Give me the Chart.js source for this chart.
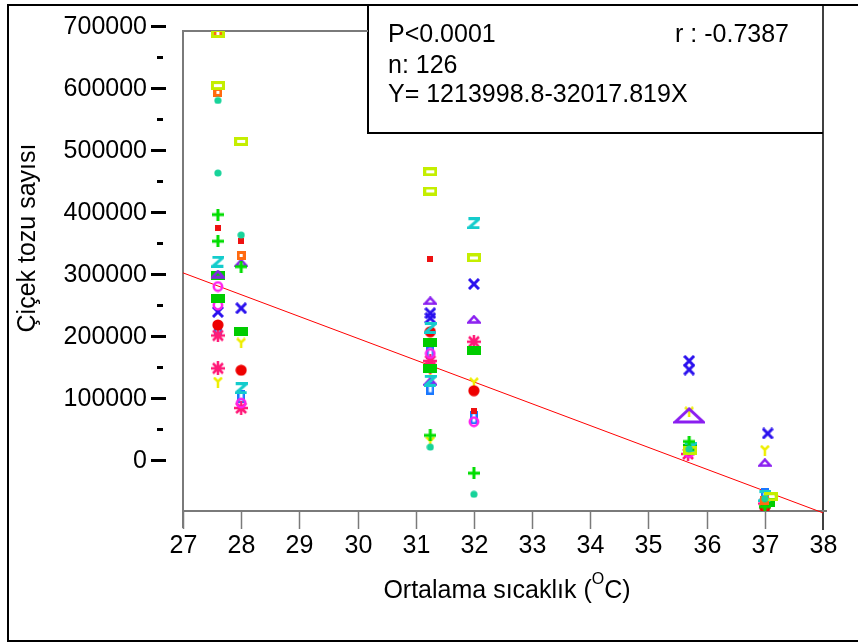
<!DOCTYPE html>
<html>
<head>
<meta charset="utf-8">
<script src="https://cdn.jsdelivr.net/npm/chart.js@4.4.1/dist/chart.umd.min.js"></script>
<style>
  html, body { margin: 0; padding: 0; background: #fff; }
  #wrap { width: 858px; height: 643px; }
</style>
</head>
<body>
<div id="wrap"><canvas id="pollenChart" width="858" height="643"></canvas></div>
<script>
// Pollen count vs mean temperature (scatter + regression)

// axis ticks
const xTicks = [27, 28, 29, 30, 31, 32, 33, 34, 35, 36, 37, 38];
const yMajorTicks = [0, 100000, 200000, 300000, 400000, 500000, 600000, 700000];
const yMinorTicks = [50000, 150000, 250000, 350000, 450000, 550000, 650000];

// series values, one pair of arrays per marker type
const tealX = [27.6, 27.6, 28.0, 31.25, 32.0, 35.7, 37.0];
const tealY = [580000, 463000, 363000, 21000, -55000, 18000, -62000];

const limeX = [27.6, 27.6, 28.0, 31.25, 31.25, 32.0, 35.72, 37.1];
const limeY = [688000, 604000, 514000, 465000, 434000, 326000, 16000, -59000];

const orangeX = [27.6, 27.6, 28.0, 37.0];
const orangeY = [688000, 593000, 330000, -65000];

const plusX = [27.6, 27.6, 28.0, 31.25, 32.0, 35.7, 37.0];
const plusY = [396000, 353000, 312000, 40000, -21000, 30000, -75000];

const redSqX = [27.6, 28.0, 31.25, 32.0, 37.0];
const redSqY = [374000, 353000, 324000, 79000, -75000];

const zX = [27.6, 28.0, 31.25, 31.25, 32.0, 35.72, 37.0];
const zY = [320000, 116000, 213000, 128000, 382000, 20000, -58000];

const triX = [27.6, 28.0, 31.25, 31.25, 32.0, 37.0];
const triY = [300000, 318000, 257000, 127000, 227000, -4000];

const bigTriX = [35.7];
const bigTriY = [72000];

const greenRectX = [27.6, 27.6, 28.0, 31.25, 31.25, 32.0, 35.72, 37.05];
const greenRectY = [298000, 260000, 208000, 189000, 147000, 177000, 18000, -69000];

const ringX = [27.6, 27.6, 28.0, 31.25, 32.0, 35.7, 37.0];
const ringY = [280000, 250000, 92000, 172000, 62000, 12000, -68000];

const blueXX = [27.6, 28.0, 31.25, 31.25, 32.0, 35.7, 35.7, 37.05];
const blueXY = [239000, 245000, 237000, 229000, 284000, 160000, 146000, 43000];

const dotX = [27.6, 28.0, 31.25, 32.0, 37.0];
const dotY = [218000, 145000, 207000, 112000, -76000];

const starX = [27.6, 27.6, 28.0, 31.25, 31.25, 32.0, 35.68, 37.0];
const starY = [201000, 148000, 84000, 160000, 150000, 191000, 10000, -70000];

const yMarkX = [27.6, 28.0, 31.25, 31.25, 32.0, 35.7, 37.0];
const yMarkY = [126000, 189000, 142000, 30000, 125000, 78000, 16000];

const blueRectX = [27.6, 28.0, 31.25, 31.25, 32.0, 37.0];
const blueRectY = [213000, 102000, 174000, 116000, 68000, -56000];

// drawn regression line
const regX = [27, 38];
const regY = [302000, -85000];

const FONT = '25px "Liberation Sans", Arial, sans-serif';
const SUP_FONT = '16px "Liberation Sans", Arial, sans-serif';

function pts(xs, ys) {
    return xs.map((x, i) => ({ x: x, y: ys[i] }));
}

// small canvases used as point styles
function marker(w, h, draw) {
    const c = document.createElement('canvas');
    c.width = w;
    c.height = h;
    const g = c.getContext('2d');
    draw(g, w, h);
    return c;
}

const mkTeal = marker(8, 8, g => {
    g.fillStyle = '#17d39a';
    g.beginPath(); g.arc(4, 4, 3.6, 0, Math.PI * 2); g.fill();
});
const mkLime = marker(14, 9, g => {
    g.strokeStyle = '#c4ee00'; g.lineWidth = 3;
    g.strokeRect(1.5, 1.5, 11, 6);
});
const mkOrange = marker(9, 9, g => {
    g.strokeStyle = '#ff6a10'; g.lineWidth = 3;
    g.strokeRect(1.5, 1.5, 6, 6);
});
const mkPlus = marker(12, 12, g => {
    g.strokeStyle = '#00dd00'; g.lineWidth = 3;
    g.beginPath(); g.moveTo(6, 0); g.lineTo(6, 12); g.moveTo(0, 6); g.lineTo(12, 6); g.stroke();
});
const mkRedSq = marker(6, 6, g => {
    g.fillStyle = '#ee1111'; g.fillRect(0, 0, 6, 6);
});
const mkZ = marker(13, 12, g => {
    g.strokeStyle = '#14cccc'; g.lineWidth = 3;
    g.beginPath(); g.moveTo(1, 1.5); g.lineTo(12, 1.5); g.lineTo(1.5, 10.5); g.lineTo(12, 10.5); g.stroke();
});
const mkTri = marker(14, 9, g => {
    g.strokeStyle = '#8a1ef0'; g.lineWidth = 2.5;
    g.beginPath(); g.moveTo(1.5, 7.5); g.lineTo(7, 1.5); g.lineTo(12.5, 7.5); g.closePath(); g.stroke();
});
const mkBigTri = marker(32, 17, g => {
    g.strokeStyle = '#8a1ef0'; g.lineWidth = 3;
    g.beginPath(); g.moveTo(2, 15); g.lineTo(16, 2); g.lineTo(30, 15); g.closePath(); g.stroke();
});
const mkGreenRect = marker(14, 9, g => {
    g.fillStyle = '#00cc00'; g.fillRect(0, 0, 14, 9);
});
const mkRing = marker(12, 12, g => {
    g.strokeStyle = '#ff1ff0'; g.lineWidth = 2.5;
    g.beginPath(); g.arc(6, 6, 4.2, 0, Math.PI * 2); g.stroke();
});
const mkBlueX = marker(12, 12, g => {
    g.strokeStyle = '#2a10ee'; g.lineWidth = 3;
    g.beginPath(); g.moveTo(1, 1); g.lineTo(11, 11); g.moveTo(11, 1); g.lineTo(1, 11); g.stroke();
});
const mkDot = marker(12, 12, g => {
    g.fillStyle = '#ee0000';
    g.beginPath(); g.arc(6, 6, 5.6, 0, Math.PI * 2); g.fill();
});
const mkStar = marker(14, 14, g => {
    g.strokeStyle = '#ff1a78'; g.lineWidth = 2.5;
    g.beginPath();
    g.moveTo(7, 0); g.lineTo(7, 14);
    g.moveTo(0, 7); g.lineTo(14, 7);
    g.moveTo(2, 2); g.lineTo(12, 12);
    g.moveTo(12, 2); g.lineTo(2, 12);
    g.stroke();
});
const mkY = marker(10, 11, g => {
    g.strokeStyle = '#eeee00'; g.lineWidth = 2.5;
    g.beginPath();
    g.moveTo(1, 1); g.lineTo(5, 5); g.lineTo(9, 1);
    g.moveTo(5, 5); g.lineTo(5, 11);
    g.stroke();
});
const mkBlueRect = marker(8, 13, g => {
    g.strokeStyle = '#1a78ff'; g.lineWidth = 2.5;
    g.strokeRect(1.25, 1.25, 5.5, 10.5);
});

function scatterSet(label, xs, ys, style) {
    return {
        type: 'scatter',
        label: label,
        data: pts(xs, ys),
        pointStyle: style,
        pointRadius: 6,
        showLine: false
    };
}

// axes, frames and texts drawn through the scales
const framePlugin = {
    id: 'framePlugin',
    beforeDatasetsDraw(chart) {
        const ctx = chart.ctx;
        const xs = chart.scales.x;
        const ys = chart.scales.y;
        const a = chart.chartArea;
        ctx.save();

        // outer frame
        ctx.strokeStyle = '#000';
        ctx.lineWidth = 2;
        ctx.beginPath();
        ctx.moveTo(858, 5); ctx.lineTo(8, 5); ctx.lineTo(8, 641); ctx.lineTo(858, 641);
        ctx.stroke();

        // stats box
        ctx.beginPath();
        ctx.moveTo(368, 5); ctx.lineTo(368, 133); ctx.lineTo(a.right, 133);
        ctx.stroke();
        ctx.lineWidth = 1.5;
        ctx.beginPath();
        ctx.moveTo(a.right, 5); ctx.lineTo(a.right, a.bottom + 19);
        ctx.stroke();

        // plot frame in grey
        ctx.strokeStyle = '#7a7a7a';
        ctx.lineWidth = 2;
        ctx.beginPath();
        ctx.moveTo(368, a.top); ctx.lineTo(a.left, a.top); ctx.lineTo(a.left, a.bottom + 17);
        ctx.moveTo(a.left, a.bottom); ctx.lineTo(a.right + 4, a.bottom);
        ctx.stroke();

        // x ticks and labels
        ctx.lineWidth = 1.5;
        ctx.fillStyle = '#000';
        ctx.font = FONT;
        ctx.textAlign = 'center';
        ctx.textBaseline = 'alphabetic';
        xTicks.forEach(v => {
            const px = Math.round(xs.getPixelForValue(v)) + 0.5;
            if (v < 38) {
                ctx.beginPath(); ctx.moveTo(px, a.bottom); ctx.lineTo(px, a.bottom + 18); ctx.stroke();
            }
            ctx.fillText(String(v), px, 553);
        });

        // y ticks and labels (detached from the axis)
        ctx.fillStyle = '#000';
        yMajorTicks.forEach(v => {
            const py = ys.getPixelForValue(v);
            ctx.fillRect(151, Math.round(py) - 1, 15, 3);
        });
        yMinorTicks.forEach(v => {
            const py = ys.getPixelForValue(v);
            ctx.fillRect(157, Math.round(py) - 1, 6, 3);
        });
        ctx.textAlign = 'right';
        ctx.textBaseline = 'middle';
        yMajorTicks.forEach(v => {
            ctx.fillText(String(v), 147, ys.getPixelForValue(v) + 1);
        });

        // axis titles
        ctx.save();
        ctx.translate(35, 238);
        ctx.rotate(-Math.PI / 2);
        ctx.textAlign = 'center';
        ctx.textBaseline = 'alphabetic';
        ctx.fillText('Çiçek tozu sayısı', 0, 0);
        ctx.restore();

        const part1 = 'Ortalama sıcaklık (';
        const part3 = 'C)';
        ctx.font = FONT;
        const w1 = ctx.measureText(part1).width;
        const w3 = ctx.measureText(part3).width;
        ctx.font = SUP_FONT;
        const w2 = ctx.measureText('O').width;
        const tx = 507 - (w1 + w2 + w3) / 2;
        ctx.textAlign = 'left';
        ctx.textBaseline = 'alphabetic';
        ctx.font = FONT;
        ctx.fillText(part1, tx, 598);
        ctx.font = SUP_FONT;
        ctx.fillText('O', tx + w1, 584);
        ctx.font = FONT;
        ctx.fillText(part3, tx + w1 + w2, 598);

        // stats text
        ctx.fillText('P<0.0001', 388, 42);
        ctx.fillText('n: 126', 388, 73);
        ctx.fillText('Y= 1213998.8-32017.819X', 388, 102);
        ctx.textAlign = 'right';
        ctx.fillText('r : -0.7387', 789, 42);

        ctx.restore();
    }
};

const chart = new Chart(document.getElementById('pollenChart'), {
    type: 'scatter',
    data: {
        datasets: [
            {
                type: 'line',
                label: 'Regresyon',
                data: pts(regX, regY),
                borderColor: '#ff0000',
                borderWidth: 1,
                pointRadius: 0,
                fill: false,
                clip: false,
                order: 20
            },
            scatterSet('A', tealX, tealY, mkTeal),
            scatterSet('B', limeX, limeY, mkLime),
            scatterSet('C', orangeX, orangeY, mkOrange),
            scatterSet('D', plusX, plusY, mkPlus),
            scatterSet('E', redSqX, redSqY, mkRedSq),
            scatterSet('F', zX, zY, mkZ),
            scatterSet('G', triX, triY, mkTri),
            scatterSet('H', bigTriX, bigTriY, mkBigTri),
            scatterSet('I', greenRectX, greenRectY, mkGreenRect),
            scatterSet('J', ringX, ringY, mkRing),
            scatterSet('K', blueXX, blueXY, mkBlueX),
            scatterSet('L', dotX, dotY, mkDot),
            scatterSet('M', starX, starY, mkStar),
            scatterSet('N', yMarkX, yMarkY, mkY),
            scatterSet('O', blueRectX, blueRectY, mkBlueRect)
        ]
    },
    options: {
        responsive: false,
        animation: false,
        layout: {
            padding: { left: 183, right: 35, top: 31, bottom: 132 }
        },
        plugins: {
            legend: { display: false },
            tooltip: { enabled: false }
        },
        scales: {
            x: { type: 'linear', min: 27, max: 38, display: false },
            y: { type: 'linear', min: -82000, max: 692000, display: false }
        }
    },
    plugins: [framePlugin]
});
</script>
</body>
</html>
